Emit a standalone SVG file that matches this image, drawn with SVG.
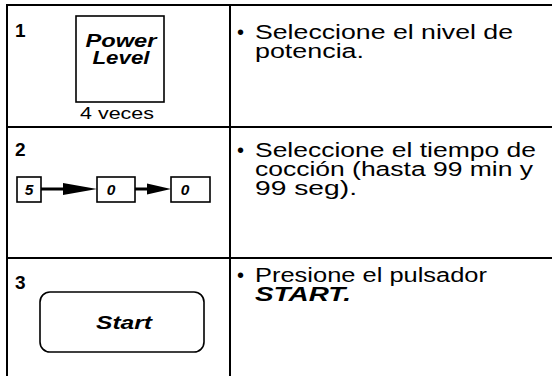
<svg xmlns="http://www.w3.org/2000/svg" width="552" height="376" viewBox="0 0 552 376">
<style>
.grid{stroke:#000;stroke-width:2;fill:none}
.box{stroke:#000;stroke-width:1.6;fill:#fff}
.num{font-family:"Liberation Sans",Arial,sans-serif;font-weight:bold;font-size:19px;fill:#000}
.body{font-family:"Liberation Sans",Arial,sans-serif;font-size:20px;fill:#000}
.bi{font-family:"Liberation Sans",Arial,sans-serif;font-weight:bold;font-style:italic;fill:#000}
.sm{font-family:"Liberation Sans",Arial,sans-serif;font-size:17px;fill:#000}
</style>
<rect width="552" height="376" fill="#fff"/>
<g id="table" class="grid">
<line x1="7" y1="5" x2="7" y2="376"/>
<line x1="6" y1="5" x2="552" y2="5"/>
<line x1="230" y1="5" x2="230" y2="376"/>
<line x1="6" y1="127" x2="552" y2="127"/>
<line x1="6" y1="258" x2="552" y2="258"/>
</g>
<g id="row1">
<text class="num" x="15" y="37">1</text>
<g id="power-level">
<rect class="box" x="76" y="16" width="88" height="86"/>
<text class="bi" font-size="18.5" x="121" y="47" text-anchor="middle" textLength="71" lengthAdjust="spacingAndGlyphs">Power</text>
<text class="bi" font-size="18.5" x="121" y="64" text-anchor="middle" textLength="57" lengthAdjust="spacingAndGlyphs">Level</text>
</g>
<text class="sm" x="80" y="119" textLength="74" lengthAdjust="spacingAndGlyphs">4 veces</text>
<text class="body" x="237" y="39">•</text>
<text class="body" x="255" y="39" textLength="258" lengthAdjust="spacingAndGlyphs">Seleccione el nivel de</text>
<text class="body" x="255" y="58" textLength="109" lengthAdjust="spacingAndGlyphs">potencia.</text>
</g>
<g id="row2">
<text class="num" x="15" y="156">2</text>
<g id="key-5">
<rect class="box" x="17" y="177" width="24" height="25"/>
<text class="bi" font-size="15.5" x="29" y="195" text-anchor="middle">5</text>
</g>
<g id="key-0a">
<rect class="box" x="97" y="177" width="38" height="25"/>
<text class="bi" font-size="15.5" x="111" y="195" text-anchor="middle">0</text>
</g>
<g id="key-0b">
<rect class="box" x="171" y="177" width="39" height="25"/>
<text class="bi" font-size="15.5" x="185" y="195" text-anchor="middle">0</text>
</g>
<text class="body" x="237" y="157">•</text>
<text class="body" x="255" y="157" textLength="281" lengthAdjust="spacingAndGlyphs">Seleccione el tiempo de</text>
<text class="body" x="255" y="176" textLength="278" lengthAdjust="spacingAndGlyphs">cocción (hasta 99 min y</text>
<text class="body" x="255" y="195" textLength="102" lengthAdjust="spacingAndGlyphs">99 seg).</text>
</g>
<g id="connectors">
<line x1="41" y1="189" x2="66" y2="189" stroke="#000" stroke-width="3"/>
<polygon points="63,183 97,189 63,195" fill="#000"/>
<line x1="135" y1="189" x2="149" y2="189" stroke="#000" stroke-width="3"/>
<polygon points="147,183.5 171,189 147,194.5" fill="#000"/>
</g>
<g id="row3">
<text class="num" x="15" y="289">3</text>
<g id="start-key">
<rect class="box" x="40" y="292" width="164" height="60" rx="10" ry="10"/>
<text class="bi" font-size="18.5" x="124" y="329" text-anchor="middle" textLength="56" lengthAdjust="spacingAndGlyphs">Start</text>
</g>
<text class="body" x="237" y="282">•</text>
<text class="body" x="255" y="282" textLength="232" lengthAdjust="spacingAndGlyphs">Presione el pulsador</text>
<text class="bi" font-size="20" x="255" y="301" textLength="96" lengthAdjust="spacingAndGlyphs">START.</text>
</g>
</svg>
